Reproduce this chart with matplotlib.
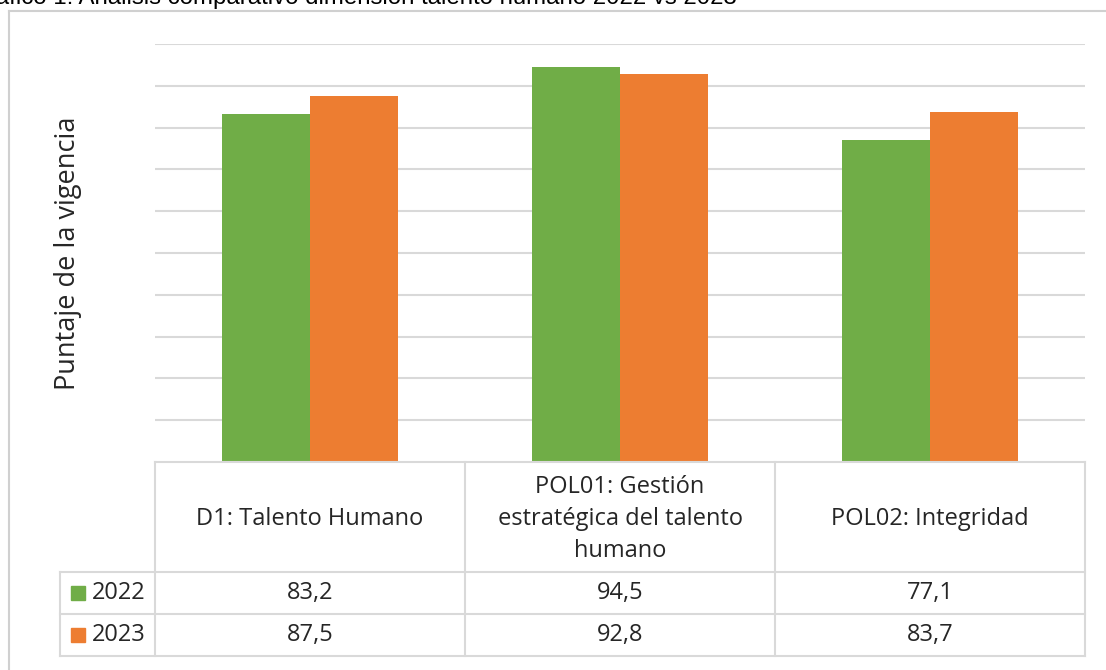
"""Grouped bar chart with a data table underneath (Excel style)."""

import matplotlib
matplotlib.use("Agg")
import matplotlib.pyplot as plt
from matplotlib.lines import Line2D
from matplotlib.patches import Rectangle
import numpy as np

# Data
categories = ["D1: Talento Humano",
              "POL01: Gestión\nestratégica del talento\nhumano",
              "POL02: Integridad"]
series_names = ["2022", "2023"]
values_2022 = [83.2, 94.5, 77.1]
values_2023 = [87.5, 92.8, 83.7]
colors = ["#70AD47", "#ED7D31"]
title = "Gráfico 1: Análisis comparativo dimensión talento humano 2022 vs 2023"
ylabel = "Puntaje de la vigencia"

W, H = 1106, 670
plt.rcParams["font.family"] = ["Open Sans", "DejaVu Sans"]

fig = plt.figure(figsize=(W / 100, H / 100), dpi=100)


def fx(px):
    return px / W


def fy(py):
    return 1 - py / H


grid_col = "#d9d9d9"
text_col = "#262626"
fs = 17

# Plot area
left, right, top, bottom = 155, 1085, 44, 462
ax = fig.add_axes([fx(left), fy(bottom), fx(right - left), (bottom - top) / H])
x = np.arange(len(categories))
bw = 0.285
ax.bar(x - bw / 2, values_2022, bw, color=colors[0], zorder=3)
ax.bar(x + bw / 2, values_2023, bw, color=colors[1], zorder=3)
ax.set_xlim(-0.5, len(categories) - 0.5)
ax.set_ylim(0, 100)
ax.set_yticks(np.arange(10, 101, 10))
ax.yaxis.grid(True, color=grid_col, linewidth=1.5)
ax.tick_params(left=False, bottom=False, labelleft=False, labelbottom=False)
for s in ax.spines.values():
    s.set_visible(False)

# Outer chart frame
fig.add_artist(Line2D([fx(9), fx(9)], [fy(11), 0], color="#d0d0d0", lw=1.5))
fig.add_artist(Line2D([fx(9), 1], [fy(11), fy(11)], color="#d0d0d0", lw=1.5))

# Title (cut at the top of the image, as in the source)
fig.text(fx(-31), fy(4), title, fontsize=17.3, family="Liberation Sans",
         va="baseline", ha="left", color="#000000")

# Y label
fig.text(fx(68), fy(253), ylabel, rotation=90, fontsize=19.5,
         va="center", ha="center", color=text_col)

# Data table
col_edges = [left + i * (right - left) / 3 for i in range(4)]
row_top, row_hdr, row_1, row_2 = 462, 572, 614, 656
lab_left = 60


def hline(y, x0, x1):
    fig.add_artist(Line2D([fx(x0), fx(x1)], [fy(y), fy(y)], color=grid_col, lw=1.5))


def vline(xp, y0, y1):
    fig.add_artist(Line2D([fx(xp), fx(xp)], [fy(y0), fy(y1)], color=grid_col, lw=1.5))


hline(row_top, left, right)
for y in (row_hdr, row_1, row_2):
    hline(y, lab_left, right)
for xe in col_edges:
    vline(xe, row_top, row_2)
vline(lab_left, row_hdr, row_2)

for i, cat in enumerate(categories):
    cx = (col_edges[i] + col_edges[i + 1]) / 2
    fig.text(fx(cx), fy((row_top + row_hdr) / 2 + 2), cat, fontsize=fs,
             ha="center", va="center", color=text_col, linespacing=1.42)
    fig.text(fx(cx), fy((row_hdr + row_1) / 2),
             f"{values_2022[i]:.1f}".replace(".", ","), fontsize=fs,
             ha="center", va="center", color=text_col)
    fig.text(fx(cx), fy((row_1 + row_2) / 2),
             f"{values_2023[i]:.1f}".replace(".", ","), fontsize=fs,
             ha="center", va="center", color=text_col)

for j, (name, c) in enumerate(zip(series_names, colors)):
    yc = (row_hdr + row_1) / 2 if j == 0 else (row_1 + row_2) / 2
    fig.add_artist(Rectangle((fx(71), fy(yc + 7)), fx(14), 14 / H,
                             color=c, transform=fig.transFigure))
    fig.text(fx(92), fy(yc), name, fontsize=fs, ha="left", va="center",
             color=text_col)

fig.savefig("out.png", dpi=100)
